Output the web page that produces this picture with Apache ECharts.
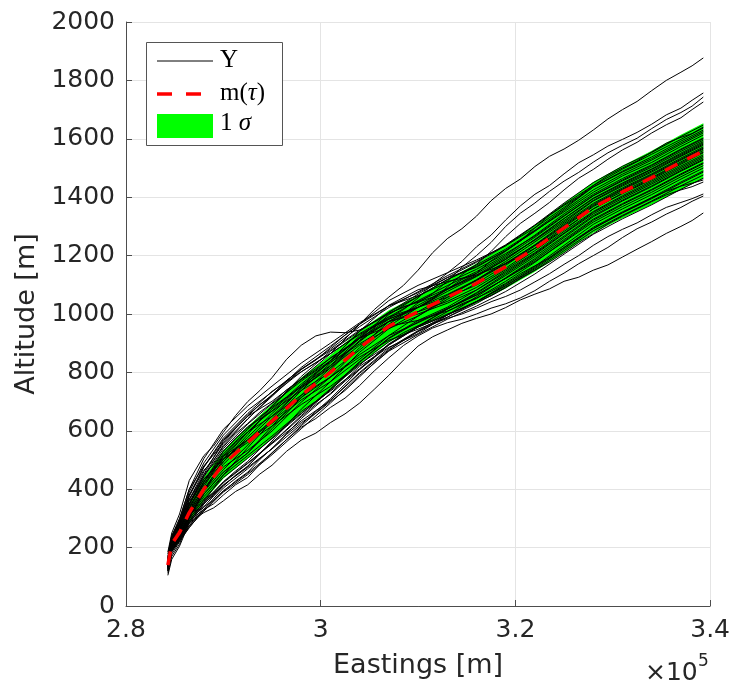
<!DOCTYPE html>
<html>
<head>
<meta charset="utf-8">
<script src="https://cdn.jsdelivr.net/npm/echarts@6/dist/echarts.min.js"></script>
<style>
html, body { margin: 0; padding: 0; background: #ffffff; }
#chart { width: 733px; height: 686px; }
</style>
</head>
<body>
<div id="chart"></div>
<script>
// Sample positions along the track (eastings, m)
const eastings = [284300, 284700, 285500, 286500, 288000, 290000, 292500, 295000, 298000, 301000, 304000, 307000,
                  310000, 313000, 316000, 319000, 322000, 325000, 328000, 331000, 334000, 337000, 339300];
// Denser sampling used for the outlying profiles
const eastingsFine = [284300, 284700, 285500, 286500, 288000, 289000, 290000, 291250, 292500, 293750, 295000, 296500,
                      298000, 299500, 301000, 302500, 304000, 305500, 307000, 308500, 310000, 311500, 313000, 314500,
                      316000, 317500, 319000, 320500, 322000, 323500, 325000, 326500, 328000, 329500, 331000, 332500,
                      334000, 335500, 337000, 338150, 339300];

// Mean altitude m(tau) and its standard deviation (m)
const meanAlt  = [140, 212, 252, 320, 400, 485, 560, 633, 722, 800, 885, 958, 1008, 1057, 1105, 1162, 1225, 1295, 1365, 1418, 1467, 1520, 1558];
const sigmaAlt = [15, 25, 30, 35, 40, 48, 55, 58, 60, 60, 58, 55, 55, 60, 68, 75, 80, 84, 87, 90, 92, 94, 95];

// Outlying altitude profiles Y (m), on the dense sampling
const runT1 = [178, 240, 300, 400, 480, 518, 560, 608, 650, 690, 720, 772, 810, 842, 885, 928, 965, 1015, 1058, 1098, 1150,
               1210, 1258, 1292, 1335, 1388, 1430, 1462, 1505, 1540, 1565, 1595, 1630, 1668, 1700, 1728, 1765, 1800, 1828, 1850, 1877];
const runP  = [185, 250, 315, 430, 515, 548, 595, 652, 700, 738, 782, 845, 893, 925, 938, 936, 945, 972, 1000, 1025, 1040,
               1058, 1085, 1118, 1140, 1182, 1215, 1250, 1295, 1338, 1372, 1402, 1440, 1474, 1500, 1524, 1555, 1585, 1605, 1618, 1640];
const runG1 = [170, 235, 290, 380, 465, 500, 545, 590, 625, 664, 695, 740, 775, 808, 850, 882, 920, 958, 985, 1015, 1055,
               1102, 1140, 1180, 1230, 1270, 1322, 1370, 1410, 1440, 1480, 1518, 1545, 1575, 1598, 1622, 1650, 1682, 1705, 1732, 1757];
const runG2 = [165, 228, 280, 365, 450, 486, 530, 575, 610, 648, 680, 716, 760, 800, 835, 866, 905, 945, 975, 1000, 1038,
               1070, 1112, 1160, 1200, 1245, 1300, 1345, 1380, 1420, 1455, 1485, 1520, 1552, 1578, 1602, 1635, 1666, 1690, 1712, 1743];
const runG3 = [160, 222, 272, 350, 435, 470, 515, 560, 595, 635, 668, 712, 750, 782, 822, 865, 898, 928, 965, 998, 1022,
               1050, 1092, 1135, 1170, 1214, 1265, 1310, 1345, 1382, 1425, 1465, 1495, 1530, 1562, 1588, 1620, 1648, 1672, 1700, 1726];
const runB1 = [105, 160, 205, 285, 320, 336, 360, 392, 415, 452, 482, 530, 568, 592, 628, 658, 695, 742, 790, 842, 890,
               922, 945, 968, 985, 1000, 1022, 1048, 1068, 1086, 1112, 1126, 1150, 1168, 1195, 1222, 1248, 1276, 1300, 1320, 1346];
const runB2 = [112, 170, 212, 292, 330, 350, 380, 415, 440, 485, 525, 570, 612, 642, 680, 712, 755, 805, 850, 892, 925,
               952, 970, 982, 1000, 1020, 1035, 1055, 1080, 1112, 1140, 1172, 1200, 1228, 1262, 1292, 1315, 1342, 1365, 1386, 1404];
const runB3 = [118, 178, 220, 298, 340, 362, 392, 428, 458, 502, 540, 588, 628, 660, 700, 738, 785, 832, 875, 912, 940,
               966, 985, 1000, 1020, 1042, 1060, 1082, 1110, 1138, 1170, 1200, 1235, 1265, 1290, 1312, 1340, 1365, 1382, 1395, 1411];
const runB4 = [122, 185, 228, 302, 352, 378, 410, 448, 478, 522, 560, 602, 648, 690, 725, 770, 810, 850, 895, 930, 955,
               976, 1000, 1018, 1042, 1062, 1090, 1122, 1150, 1178, 1210, 1245, 1275, 1308, 1335, 1360, 1385, 1408, 1425, 1436, 1452];
const runB5 = [126, 188, 232, 308, 362, 390, 425, 462, 495, 538, 575, 620, 660, 698, 740, 785, 825, 868, 905, 936, 960,
               980, 1008, 1035, 1055, 1078, 1105, 1138, 1165, 1192, 1228, 1262, 1292, 1320, 1348, 1372, 1398, 1420, 1438, 1448, 1459];

// Altitude profiles Y (m) in the main bundle
const runL01 = [160, 237, 277, 365, 460, 557, 641, 718, 810, 880, 957, 1022, 1076, 1131, 1180, 1237, 1305, 1380, 1450, 1506, 1553, 1608, 1647];
const runL02 = [145, 227, 272, 350, 451, 566, 650, 701, 778, 864, 965, 1046, 1098, 1141, 1185, 1234, 1303, 1375, 1440, 1496, 1547, 1598, 1637];
const runL03 = [135, 212, 262, 342, 417, 494, 587, 684, 786, 872, 941, 1006, 1060, 1118, 1168, 1222, 1287, 1360, 1435, 1486, 1532, 1586, 1625];
const runL04 = [150, 217, 247, 305, 392, 503, 596, 675, 754, 824, 917, 1006, 1068, 1124, 1160, 1217, 1285, 1350, 1417, 1473, 1519, 1574, 1613];
const runL05 = [140, 202, 237, 290, 358, 449, 542, 633, 738, 832, 925, 990, 1046, 1097, 1145, 1202, 1270, 1343, 1410, 1464, 1511, 1565, 1603];
const runL06 = [155, 232, 267, 335, 425, 530, 614, 667, 738, 800, 877, 958, 1023, 1084, 1139, 1197, 1263, 1335, 1405, 1456, 1503, 1557, 1595];
const runL07 = [130, 197, 242, 312, 400, 476, 533, 599, 698, 784, 885, 974, 1030, 1084, 1130, 1187, 1255, 1327, 1395, 1446, 1495, 1547, 1586];
const runL08 = [145, 222, 257, 320, 408, 512, 569, 625, 706, 768, 845, 926, 993, 1057, 1117, 1180, 1247, 1315, 1387, 1438, 1486, 1540, 1578];
const runL09 = [125, 192, 227, 275, 340, 413, 479, 565, 674, 768, 869, 950, 1008, 1064, 1114, 1172, 1237, 1310, 1379, 1432, 1480, 1534, 1572];
const runL10 = [165, 242, 287, 380, 477, 575, 659, 735, 802, 864, 933, 990, 1023, 1057, 1099, 1157, 1225, 1297, 1368, 1420, 1467, 1521, 1560];
const runL11 = [140, 217, 252, 312, 383, 458, 524, 616, 722, 816, 909, 974, 1008, 1043, 1091, 1152, 1217, 1289, 1360, 1412, 1460, 1513, 1552];
const runL12 = [135, 207, 242, 298, 366, 440, 506, 573, 658, 744, 837, 918, 978, 1023, 1082, 1147, 1210, 1283, 1351, 1405, 1455, 1507, 1545];
const runL13 = [150, 227, 272, 358, 434, 503, 560, 616, 690, 752, 829, 894, 956, 1017, 1073, 1137, 1203, 1275, 1343, 1396, 1445, 1497, 1535];
const runL14 = [120, 187, 222, 268, 332, 404, 470, 539, 642, 728, 821, 886, 933, 996, 1059, 1124, 1190, 1262, 1333, 1387, 1436, 1489, 1527];
const runL15 = [145, 222, 262, 328, 400, 494, 578, 659, 754, 840, 917, 958, 978, 1010, 1053, 1112, 1177, 1250, 1321, 1375, 1424, 1477, 1515];
const runL16 = [130, 207, 252, 328, 417, 512, 596, 650, 722, 784, 853, 910, 948, 989, 1042, 1102, 1163, 1235, 1307, 1360, 1409, 1462, 1500];
const runL17 = [140, 212, 247, 305, 374, 449, 515, 582, 666, 736, 813, 894, 956, 996, 1042, 1097, 1155, 1223, 1293, 1346, 1395, 1448, 1486];
const runL18 = [125, 197, 232, 282, 349, 422, 488, 556, 634, 704, 797, 878, 940, 989, 1036, 1092, 1150, 1217, 1285, 1338, 1387, 1439, 1476];
const runL19 = [160, 237, 282, 365, 442, 539, 623, 693, 770, 840, 917, 982, 1023, 1077, 1128, 1187, 1255, 1327, 1397, 1449, 1497, 1551, 1590];
const runL20 = [135, 202, 237, 305, 392, 485, 569, 650, 746, 816, 893, 950, 993, 1050, 1105, 1167, 1233, 1301, 1371, 1425, 1473, 1527, 1565];
const runL21 = [150, 222, 257, 335, 425, 521, 605, 684, 778, 848, 917, 974, 1000, 1037, 1082, 1142, 1207, 1277, 1348, 1401, 1450, 1502, 1540];
const runL22 = [120, 192, 237, 305, 383, 458, 524, 607, 714, 808, 909, 998, 1060, 1118, 1163, 1217, 1283, 1355, 1425, 1479, 1527, 1581, 1620];
const runL23 = [155, 232, 277, 350, 426, 503, 569, 633, 714, 784, 861, 926, 970, 1017, 1065, 1122, 1180, 1247, 1315, 1368, 1417, 1470, 1508];
const runL24 = [130, 202, 247, 320, 392, 467, 551, 641, 746, 840, 941, 1030, 1083, 1111, 1134, 1172, 1225, 1290, 1360, 1414, 1464, 1517, 1555];
const runL25 = [148, 230, 292, 390, 490, 585, 670, 733, 812, 875, 945, 1003, 1043, 1087, 1133, 1192, 1253, 1320, 1389, 1442, 1490, 1543, 1582];
const runL26 = [132, 200, 232, 285, 350, 415, 475, 538, 622, 710, 810, 898, 958, 1017, 1070, 1132, 1197, 1267, 1337, 1390, 1439, 1492, 1530];
const runL27 = [152, 234, 297, 400, 505, 605, 685, 753, 832, 900, 970, 1028, 1063, 1107, 1153, 1207, 1267, 1337, 1405, 1459, 1508, 1562, 1600];
const runL28 = [135, 202, 230, 275, 330, 395, 455, 523, 617, 705, 800, 883, 943, 997, 1043, 1097, 1159, 1228, 1297, 1350, 1399, 1452, 1490];
const runL29 = [145, 227, 282, 375, 475, 570, 655, 723, 802, 865, 930, 983, 1023, 1067, 1117, 1174, 1236, 1305, 1375, 1428, 1477, 1530, 1568];
const runL30 = [137, 204, 237, 290, 355, 425, 490, 558, 652, 740, 835, 916, 973, 1019, 1065, 1122, 1185, 1255, 1325, 1378, 1427, 1480, 1518];
const runL31 = [140, 217, 262, 345, 445, 550, 640, 723, 817, 890, 965, 1028, 1073, 1125, 1177, 1234, 1295, 1365, 1435, 1489, 1538, 1592, 1630];
const runL32 = [128, 194, 224, 270, 325, 390, 450, 518, 607, 695, 790, 873, 930, 982, 1027, 1077, 1137, 1205, 1273, 1326, 1374, 1427, 1465];

const outlierRuns = [runT1, runP, runG1, runG2, runG3, runB1, runB2, runB3, runB4, runB5];
const bundleRuns = [runL01, runL02, runL03, runL04, runL05, runL06, runL07, runL08, runL09, runL10, runL11, runL12,
                    runL13, runL14, runL15, runL16, runL17, runL18, runL19, runL20, runL21, runL22, runL23, runL24,
                    runL25, runL26, runL27, runL28, runL29, runL30, runL31, runL32];

// Axis ticks
const xTickValues = [280000, 300000, 320000, 340000];
const xTickLabels = ['2.8', '3', '3.2', '3.4'];
const yTickStep = 200;

const TEXT = '#262626';
const SANS = 'DejaVu Sans';
const SERIF = 'Liberation Serif';

const pairsOn = (grid, ys) => grid.map((x, i) => [x, ys[i]]);

const chart = echarts.init(document.getElementById('chart'), null, { renderer: 'canvas' });

// ±1 sigma band drawn as a single polygon through the axis scales
const bandSeries = {
  type: 'custom',
  silent: true,
  z: 1,
  clip: true,
  data: [[eastings[0], meanAlt[0]]],
  renderItem: (params, api) => {
    const upper = eastings.map((x, i) => api.coord([x, meanAlt[i] + sigmaAlt[i]]));
    const lower = eastings.map((x, i) => api.coord([x, meanAlt[i] - sigmaAlt[i]])).reverse();
    return {
      type: 'polygon',
      shape: { points: upper.concat(lower) },
      style: { fill: '#00ff00', stroke: null }
    };
  }
};

const profileSeries = (grid, ys) => ({
  type: 'line',
  data: pairsOn(grid, ys),
  symbol: 'none',
  silent: true,
  z: 2,
  lineStyle: { color: '#000000', width: 1 }
});

const runSeries = bundleRuns.map(r => profileSeries(eastings, r))
  .concat(outlierRuns.map(r => profileSeries(eastingsFine, r)));

const meanSeries = {
  type: 'line',
  data: pairsOn(eastings, meanAlt),
  symbol: 'none',
  silent: true,
  z: 3,
  lineStyle: { color: '#ff0000', width: 3.5, type: [14, 11] }
};

chart.setOption({
  animation: false,
  backgroundColor: '#ffffff',
  grid: { left: 126, right: 22, top: 22, bottom: 80, containLabel: false },
  xAxis: {
    type: 'value',
    min: 280000, max: 340000, interval: 20000,
    name: 'Eastings [m]',
    nameLocation: 'middle',
    nameGap: 46,
    nameTextStyle: { fontFamily: SANS, fontSize: 27, color: TEXT },
    axisLine: { show: true, onZero: false, lineStyle: { color: '#4d4d4d', width: 1 } },
    axisTick: { show: true, inside: true, length: 6, lineStyle: { color: '#4d4d4d' } },
    axisLabel: {
      fontFamily: SANS, fontSize: 25, color: TEXT, margin: 12,
      showMinLabel: true, showMaxLabel: true,
      formatter: v => { const k = xTickValues.indexOf(v); return k >= 0 ? xTickLabels[k] : ''; }
    },
    splitLine: { show: true, lineStyle: { color: '#e4e4e4', width: 1 } }
  },
  yAxis: {
    type: 'value',
    min: 0, max: 2000, interval: yTickStep,
    name: 'Altitude [m]',
    nameLocation: 'middle',
    nameRotate: 90,
    nameGap: 75,
    nameTextStyle: { fontFamily: SANS, fontSize: 27, color: TEXT },
    axisLine: { show: true, onZero: false, lineStyle: { color: '#4d4d4d', width: 1 } },
    axisTick: { show: true, inside: true, length: 6, lineStyle: { color: '#4d4d4d' } },
    axisLabel: {
      fontFamily: SANS, fontSize: 25, color: TEXT, margin: 11, showMinLabel: true, showMaxLabel: true,
      formatter: v => String(v)
    },
    splitLine: { show: true, lineStyle: { color: '#e4e4e4', width: 1 } }
  },
  series: [bandSeries].concat(runSeries, [meanSeries]),
  graphic: [
    // axis exponent
    { type: 'text', x: 645, y: 673, z: 100,
      style: { text: '×10', fontFamily: SANS, fontSize: 25, fill: TEXT, verticalAlign: 'middle', align: 'left' } },
    { type: 'text', x: 698, y: 662, z: 100,
      style: { text: '5', fontFamily: SANS, fontSize: 17, fill: TEXT, verticalAlign: 'middle', align: 'left' } },
    // legend
    { type: 'rect', z: 100, shape: { x: 146.5, y: 42.5, width: 136, height: 103 },
      style: { fill: '#ffffff', stroke: '#555555', lineWidth: 1 } },
    { type: 'line', z: 101, shape: { x1: 157, y1: 61, x2: 213, y2: 61 },
      style: { stroke: '#000000', lineWidth: 1 } },
    { type: 'line', z: 101, shape: { x1: 157, y1: 94, x2: 202, y2: 94 },
      style: { stroke: '#ff0000', lineWidth: 3.5, lineDash: [15, 14] } },
    { type: 'rect', z: 101, shape: { x: 157, y: 114, width: 56, height: 24 },
      style: { fill: '#00ff00' } },
    { type: 'text', x: 220, y: 60, z: 101,
      style: { text: 'Y', fontFamily: SERIF, fontSize: 25, fill: '#000000', verticalAlign: 'middle' } },
    { type: 'text', x: 220, y: 93, z: 101,
      style: { text: 'm({t|τ})', fontFamily: SERIF, fontSize: 25, fill: '#000000', verticalAlign: 'middle',
               rich: { t: { fontFamily: SERIF, fontSize: 25, fontStyle: 'italic', fill: '#000000' } } } },
    { type: 'text', x: 220, y: 123, z: 101,
      style: { text: '1 {s|σ}', fontFamily: SERIF, fontSize: 25, fill: '#000000', verticalAlign: 'middle',
               rich: { s: { fontFamily: SERIF, fontSize: 25, fontStyle: 'italic', fill: '#000000' } } } }
  ]
});
</script>
</body>
</html>
